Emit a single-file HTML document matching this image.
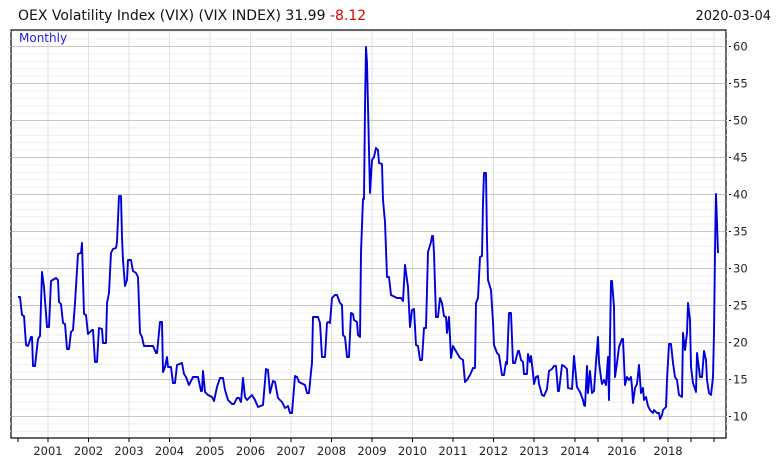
<!DOCTYPE html>
<html><head><meta charset="utf-8"><style>
html,body{margin:0;padding:0;background:#fff;}
svg{display:block;font-family:"DejaVu Sans","Liberation Sans",sans-serif;}
</style></head><body>
<svg width="778" height="464" viewBox="0 0 778 464" xmlns="http://www.w3.org/2000/svg">
<defs>
<pattern id="hm" patternUnits="userSpaceOnUse" x="0" y="46" width="10" height="7.4">
<line x1="0" y1="0.5" x2="10" y2="0.5" stroke="#efefef" stroke-width="1"/>
</pattern>
</defs>
<rect x="0" y="0" width="778" height="464" fill="#fff"/>
<rect x="11" y="30" width="715" height="408" fill="url(#hm)"/>
<g stroke="#e2e2e2" stroke-width="1">
<line x1="48" y1="30" x2="48" y2="438"/><line x1="88.5" y1="30" x2="88.5" y2="438"/>
<line x1="129" y1="30" x2="129" y2="438"/><line x1="169.5" y1="30" x2="169.5" y2="438"/>
<line x1="210" y1="30" x2="210" y2="438"/><line x1="250.5" y1="30" x2="250.5" y2="438"/>
<line x1="291" y1="30" x2="291" y2="438"/><line x1="331.5" y1="30" x2="331.5" y2="438"/>
<line x1="372" y1="30" x2="372" y2="438"/><line x1="412.5" y1="30" x2="412.5" y2="438"/>
<line x1="453" y1="30" x2="453" y2="438"/><line x1="493.5" y1="30" x2="493.5" y2="438"/>
<line x1="534" y1="30" x2="534" y2="438"/><line x1="575" y1="30" x2="575" y2="438"/>
<line x1="598" y1="30" x2="598" y2="438"/><line x1="622" y1="30" x2="622" y2="438"/>
<line x1="644" y1="30" x2="644" y2="438"/><line x1="668" y1="30" x2="668" y2="438"/>
<line x1="691" y1="30" x2="691" y2="438"/><line x1="714" y1="30" x2="714" y2="438"/>
</g>
<g stroke="#c8c8c8" stroke-width="1">
<line x1="11" y1="46.5" x2="726" y2="46.5"/><line x1="11" y1="83.5" x2="726" y2="83.5"/>
<line x1="11" y1="120.5" x2="726" y2="120.5"/><line x1="11" y1="157.5" x2="726" y2="157.5"/>
<line x1="11" y1="194.5" x2="726" y2="194.5"/><line x1="11" y1="231.5" x2="726" y2="231.5"/>
<line x1="11" y1="268.5" x2="726" y2="268.5"/><line x1="11" y1="305.5" x2="726" y2="305.5"/>
<line x1="11" y1="342.5" x2="726" y2="342.5"/><line x1="11" y1="379.5" x2="726" y2="379.5"/>
<line x1="11" y1="416.5" x2="726" y2="416.5"/>
</g>
<polyline fill="none" stroke="#0000dd" stroke-width="1.9" stroke-linejoin="round" points="
18,297 20,297 22,315 24,316 26,345 28,346 31,337 32,337 33,366 35,366 38,339 40,336 42,272 44,287 47,327 49,327 51,281 56,278 58,280 59,302 61,304 63,323 65,324 67,349 69,349 71,332 73,330 75,303 78,254 81,253 82,243 83,280 84,314 86,315 88,334 92,330 93,330 95,362 97,362 99,328 102,329 103,343 106,343 107,303 109,293 111,253 113,249 116,248 117,242 119,196 121,196 122,237 123,260 125,286 127,280 128,260 131,260 133,271 136,273 138,277 140,333 142,337 144,346 153,346 156,353 157,353 160,322 162,322 163,372 165,367 167,357 168,367 171,367 173,383 175,383 177,365 182,363 184,374 186,377 189,385 193,377 198,377 201,391 202,391 203,371 205,392 208,395 212,397 214,401 217,387 220,378 223,378 225,390 228,400 232,404 234,404 237,398 239,398 241,402 243,378 245,397 247,400 250,397
252,395 255,400 258,407 263,405 266,369 268,370 270,393 273,381 275,382 278,398 282,402 285,408 288,406 290,413 292,413 295,376 297,377 299,382 305,385 307,393 309,393 311,372 312,363 313,317 318,317 320,323 322,357 325,357 327,323 328,322 330,323 332,298 335,295 337,295 340,303 342,305 343,335 345,337 347,357 349,357 351,313 353,314 354,320 357,322 358,335 360,337 361,252 363,199 364,199 365,107 366,47 367,63 369,150 370,193 372,160 374,157 376,148 378,150 379,163 382,164 383,200 385,222 387,277 389,277 391,295 397,298 401,298 403,301 405,265 408,287 410,327 412,310 414,309 416,345 418,346 420,360 422,360 424,328 426,328 428,252 431,242 432,236 433,236 434,253 436,317 438,317 440,298 442,303 444,316 446,317 447,333 449,317 451,358 453,346 457,353 460,358 463,360 465,382 467,380 470,375 473,368 475,368 476,303 478,298 480,257 482,256 483,203 484,173 486,173 487,240 488,280 491,290 493,322 494,345 497,353 499,355 502,375 504,375 506,362 507,364 509,313 511,313 513,363 515,363 518,351 519,351 521,360 523,362 524,374 527,374 528,354 530,362 531,356 533,373 534,384 536,377 538,376 539,384 542,395 544,396 547,389 549,371 552,369 554,366 556,366 558,391 559,391 562,365 564,366 567,369 568,388 572,389 574,356 576,377 577,387 580,392 583,400 584,405 585,406 587,366 588,393 590,371 592,393 594,391 596,362 598,337 599,362 601,378 602,384 604,380 606,385 608,357 609,400 611,281 612,281 614,307 615,377 617,363 619,347 622,339 623,339 625,385 627,377 629,380 631,377 632,387 633,403 635,388 637,384 639,365 641,393 643,388 644,400 646,397 648,406 650,410 653,413 654,410 657,413 659,413 660,419 662,415 663,410 666,407 667,380 669,344 671,344 673,363 675,377 677,380 679,395 682,397 683,333 685,350 687,333 688,303 690,320 691,367 693,383 696,392 697,353 700,377 702,377 704,351 706,360 707,380 709,393 711,395 713,377 714,333 715,252 716,194 717,223 718,253"/>
<rect x="11" y="30" width="715" height="408" fill="none" stroke="#000" stroke-width="1.2"/>
<g stroke="#000" stroke-width="1">
<line x1="18" y1="438" x2="18" y2="442"/><line x1="48" y1="438" x2="48" y2="442"/><line x1="88.5" y1="438" x2="88.5" y2="442"/>
<line x1="129" y1="438" x2="129" y2="442"/><line x1="169.5" y1="438" x2="169.5" y2="442"/><line x1="210" y1="438" x2="210" y2="442"/>
<line x1="250.5" y1="438" x2="250.5" y2="442"/><line x1="291" y1="438" x2="291" y2="442"/><line x1="331.5" y1="438" x2="331.5" y2="442"/>
<line x1="372" y1="438" x2="372" y2="442"/><line x1="412.5" y1="438" x2="412.5" y2="442"/><line x1="453" y1="438" x2="453" y2="442"/>
<line x1="493.5" y1="438" x2="493.5" y2="442"/><line x1="534" y1="438" x2="534" y2="442"/><line x1="575" y1="438" x2="575" y2="442"/>
<line x1="598" y1="438" x2="598" y2="442"/><line x1="622" y1="438" x2="622" y2="442"/><line x1="644" y1="438" x2="644" y2="442"/>
<line x1="668" y1="438" x2="668" y2="442"/><line x1="691" y1="438" x2="691" y2="442"/><line x1="714" y1="438" x2="714" y2="442"/>
</g>
<g stroke="#000" stroke-width="1">
<line x1="726" y1="46.5" x2="731" y2="46.5"/><line x1="726" y1="83.5" x2="731" y2="83.5"/><line x1="726" y1="120.5" x2="731" y2="120.5"/>
<line x1="726" y1="157.5" x2="731" y2="157.5"/><line x1="726" y1="194.5" x2="731" y2="194.5"/><line x1="726" y1="231.5" x2="731" y2="231.5"/>
<line x1="726" y1="268.5" x2="731" y2="268.5"/><line x1="726" y1="305.5" x2="731" y2="305.5"/><line x1="726" y1="342.5" x2="731" y2="342.5"/>
<line x1="726" y1="379.5" x2="731" y2="379.5"/><line x1="726" y1="416.5" x2="731" y2="416.5"/>
</g>
<rect x="726" y="30" width="3" height="408" fill="url(#hm)"/>
<rect x="8" y="30" width="3" height="408" fill="url(#hm)"/>
<g font-size="11.5" fill="#222">
<text x="733" y="50.5">60</text><text x="733" y="87.5">55</text><text x="733" y="124.5">50</text>
<text x="733" y="161.5">45</text><text x="733" y="198.5">40</text><text x="733" y="235.5">35</text>
<text x="733" y="272.5">30</text><text x="733" y="309.5">25</text><text x="733" y="346.5">20</text>
<text x="733" y="383.5">15</text><text x="733" y="420.5">10</text>
</g>
<g font-size="11.5" fill="#222" text-anchor="middle">
<text x="48" y="455">2001</text><text x="88.5" y="455">2002</text><text x="129" y="455">2003</text>
<text x="169.5" y="455">2004</text><text x="210" y="455">2005</text><text x="250.5" y="455">2006</text>
<text x="291" y="455">2007</text><text x="331.5" y="455">2008</text><text x="372" y="455">2009</text>
<text x="412.5" y="455">2010</text><text x="453" y="455">2011</text><text x="493.5" y="455">2012</text>
<text x="534" y="455">2013</text><text x="575" y="455">2014</text><text x="622" y="455">2016</text>
<text x="668" y="455">2018</text>
</g>
<text x="18" y="20" font-size="14" fill="#111">OEX Volatility Index (VIX) (VIX INDEX) 31.99 <tspan fill="#e00000">-8.12</tspan></text>
<text x="771" y="20" font-size="13" fill="#111" text-anchor="end">2020-03-04</text>
<text x="19" y="42" font-size="12" fill="#2222dd">Monthly</text>
</svg>
</body></html>
